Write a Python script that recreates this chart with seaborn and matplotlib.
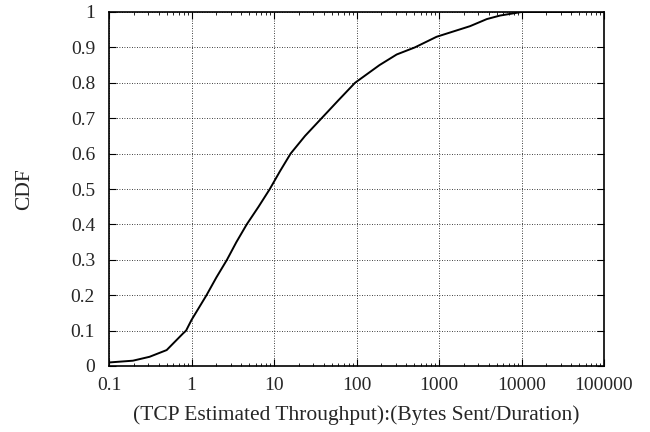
import matplotlib
matplotlib.use("Agg")
import matplotlib.pyplot as plt
import seaborn as sns
import pandas as pd
from matplotlib.ticker import LogLocator, FixedLocator, NullFormatter

throughput = [0.1, 0.195, 0.31, 0.5, 0.79, 0.86, 1.0, 1.52, 2.0, 2.69, 3.5, 4.67,
              6.5, 8.9, 11.8, 15.9, 23.8, 37.8, 60, 96, 190, 307, 510, 935,
              2380, 3800, 5500, 10000, 42000]
cdf = [0.010, 0.015, 0.026, 0.045, 0.092, 0.1, 0.13, 0.2, 0.25, 0.3, 0.35, 0.4,
       0.45, 0.5, 0.55, 0.6, 0.65, 0.7, 0.75, 0.8, 0.85, 0.88, 0.9, 0.93,
       0.96, 0.98, 0.99, 1.0, 1.0]
x_ticks = [0.1, 1, 10, 100, 1000, 10000, 100000]
x_tick_labels = ["0.1", "1", "10", "100", "1000", "10000", "100000"]
y_ticks = [0, 0.1, 0.2, 0.3, 0.4, 0.5, 0.6, 0.7, 0.8, 0.9, 1]
y_tick_labels = ["0", "0.1", "0.2", "0.3", "0.4", "0.5", "0.6", "0.7", "0.8", "0.9", "1"]

sns.set_style("ticks")
plt.rcParams["font.family"] = ["Liberation Serif", "DejaVu Serif"]

df = pd.DataFrame({"x": throughput, "y": cdf})

fig = plt.figure(figsize=(6.5, 4.32), dpi=100)
ax = fig.add_axes([109 / 650, 1 - 366 / 432, (604 - 109) / 650, (366 - 12) / 432])
sns.lineplot(data=df, x="x", y="y", ax=ax, color="black", linewidth=1.4)
ax.set_xscale("log")
ax.set_xlim(0.1, 100000)
ax.set_ylim(0, 1)
ax.xaxis.set_major_locator(FixedLocator(x_ticks))
ax.set_xticks(x_ticks)
ax.set_xticklabels(x_tick_labels)
ax.xaxis.set_minor_locator(LogLocator(base=10, subs=range(2, 10), numticks=20))
ax.xaxis.set_minor_formatter(NullFormatter())
ax.set_yticks(y_ticks)
ax.set_yticklabels(y_tick_labels)
ax.grid(True, which="major", color="black", linestyle=(0, (1, 2)), linewidth=0.6)
ax.tick_params(which="both", direction="in", top=True, right=True, labelsize=14,
               color="black")
ax.tick_params(axis="y", pad=10)
ax.tick_params(axis="x", pad=8)
ax.tick_params(which="major", length=5, width=0.8)
ax.tick_params(which="minor", length=2.5, width=0.6)
for s in ax.spines.values():
    s.set_linewidth(1.2)
    s.set_color("black")
ax.set_xlabel("(TCP Estimated Throughput):(Bytes Sent/Duration)", fontsize=15.5, labelpad=8)
ax.set_ylabel("CDF", fontsize=15.5, labelpad=26)
fig.savefig("out.png", dpi=100)
